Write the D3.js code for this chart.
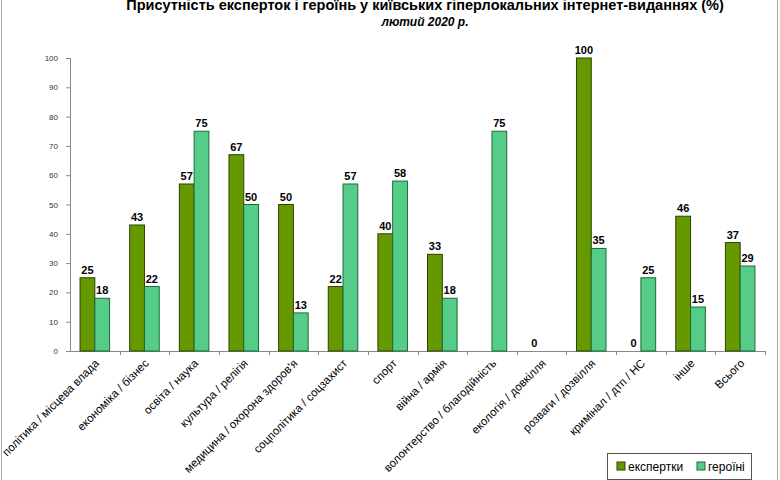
<!DOCTYPE html>
<html>
<head>
<meta charset="utf-8">
<script src="https://cdn.jsdelivr.net/npm/d3@7"></script>
<style>
  body { margin: 0; background: #fff; }
  svg { font-family: "Liberation Sans", Arial, sans-serif; }
</style>
</head>
<body>
<svg id="chart" width="780" height="480"></svg>
<script>
var categories = ["політика / місцева влада", "економіка / бізнес", "освіта / наука",
  "культура / релігія", "медицина / охорона здоров'я", "соцполітика / соцзахист", "спорт",
  "війна / армія", "волонтерство / благодійність", "екологія / довкілля", "розваги / дозвілля",
  "кримінал / дтп / НС", "інше", "Всього"];
var experts = [25, 43, 57, 67, 50, 22, 40, 33, null, 0, 100, 0, 46, 37];
var heroines = [18, 22, 75, 50, 13, 57, 58, 18, 75, null, 35, 25, 15, 29];
var seriesNames = ["експертки", "героїні"];
var yTicks = [0, 10, 20, 30, 40, 50, 60, 70, 80, 90, 100];

var svg = d3.select("#chart");
var width = 780, height = 480;
var mLeft = 70, mRight = 765, mTop = 58, mBottom = 351;

// frame lines at the sides
svg.append("line").attr("x1", 1.5).attr("x2", 1.5).attr("y1", 0).attr("y2", height)
  .attr("stroke", "#aaa");
svg.append("line").attr("x1", 777.5).attr("x2", 777.5).attr("y1", 0).attr("y2", height)
  .attr("stroke", "#aaa");

svg.append("text").attr("x", 425).attr("y", 10)
  .attr("text-anchor", "middle").style("font-size", "14.5px").style("font-weight", "bold")
  .text("Присутність експерток і героїнь у київських гіперлокальних інтернет-виданнях (%)");
svg.append("text").attr("x", 425).attr("y", 26)
  .attr("text-anchor", "middle").style("font-size", "12px").style("font-weight", "bold")
  .style("font-style", "italic")
  .text("лютий 2020 р.");

var x = d3.scaleBand().domain(categories).range([mLeft, mRight]);
var sub = d3.scaleBand().domain(seriesNames).range([0, x.bandwidth()])
  .paddingOuter(0.68).paddingInner(0);
var y = d3.scaleLinear().domain([0, 100]).range([mBottom, mTop]);

// y axis
var yAxis = d3.axisLeft(y).tickValues(yTicks).tickSize(4).tickPadding(8);
var yg = svg.append("g").attr("transform", "translate(" + mLeft + ",0)").call(yAxis);
yg.select(".domain").attr("stroke", "#888");
yg.selectAll(".tick line").attr("stroke", "#888");
yg.selectAll(".tick text").style("font-size", "8px").attr("fill", "#333")
  .style("font-family", "Liberation Sans, Arial, sans-serif");

// x axis: ticks between categories
var xg = svg.append("g");
xg.append("line").attr("x1", mLeft).attr("x2", mRight).attr("y1", mBottom + 0.5).attr("y2", mBottom + 0.5)
  .attr("stroke", "#888");
xg.selectAll("line.sep").data(categories).enter().append("line")
  .attr("class", "sep")
  .attr("x1", function(d) { return Math.round(x(d) + x.bandwidth()) + 0.5; })
  .attr("x2", function(d) { return Math.round(x(d) + x.bandwidth()) + 0.5; })
  .attr("y1", mBottom).attr("y2", mBottom + 4)
  .attr("stroke", "#888");

xg.selectAll("text.cat").data(categories).enter().append("text")
  .attr("class", "cat")
  .attr("transform", function(d) {
    return "translate(" + (x(d) + x.bandwidth() / 2 + 5) + "," + (mBottom + 13) + ") rotate(-45)";
  })
  .attr("text-anchor", "end")
  .style("font-size", "11.5px")
  .attr("fill", "#000")
  .text(function(d) { return d; });

var colors = { "експертки": "#669900", "героїні": "#55cc88" };
var strokes = { "експертки": "#2b4000", "героїні": "#1d6b36" };

var rows = categories.map(function(c, i) {
  return { cat: c, values: [
    { s: seriesNames[0], v: experts[i] },
    { s: seriesNames[1], v: heroines[i] }
  ] };
});

var groups = svg.selectAll("g.grp").data(rows).enter().append("g")
  .attr("class", "grp")
  .attr("transform", function(d) { return "translate(" + x(d.cat) + ",0)"; });

groups.selectAll("rect").data(function(d) { return d.values.filter(function(e) { return e.v; }); })
  .enter().append("rect")
  .attr("x", function(d) { return sub(d.s); })
  .attr("y", function(d) { return y(d.v); })
  .attr("width", sub.bandwidth())
  .attr("height", function(d) { return y(0) - y(d.v); })
  .attr("fill", function(d) { return colors[d.s]; })
  .attr("stroke", function(d) { return strokes[d.s]; })
  .attr("stroke-width", 1);

groups.selectAll("text.val").data(function(d) { return d.values.filter(function(e) { return e.v !== null; }); })
  .enter().append("text")
  .attr("class", "val")
  .attr("x", function(d) { return sub(d.s) + sub.bandwidth() / 2; })
  .attr("y", function(d) { return y(d.v) - 4; })
  .attr("text-anchor", "middle")
  .style("font-size", "11px").style("font-weight", "bold")
  .text(function(d) { return d.v; });

// legend
var lg = svg.append("g").attr("transform", "translate(607,453)");
lg.append("rect").attr("x", 0.5).attr("y", 0.5).attr("width", 144).attr("height", 26)
  .attr("fill", "#fff").attr("stroke", "#555");
var items = lg.selectAll("g.item").data(seriesNames).enter().append("g")
  .attr("class", "item")
  .attr("transform", function(d, i) { return "translate(" + (10 + i * 80) + ",9)"; });
items.append("rect").attr("width", 8).attr("height", 8)
  .attr("fill", function(d) { return colors[d]; })
  .attr("stroke", function(d) { return strokes[d]; });
items.append("text").attr("x", 11).attr("y", 9)
  .style("font-size", "12px")
  .text(function(d) { return d; });
</script>
</body>
</html>
